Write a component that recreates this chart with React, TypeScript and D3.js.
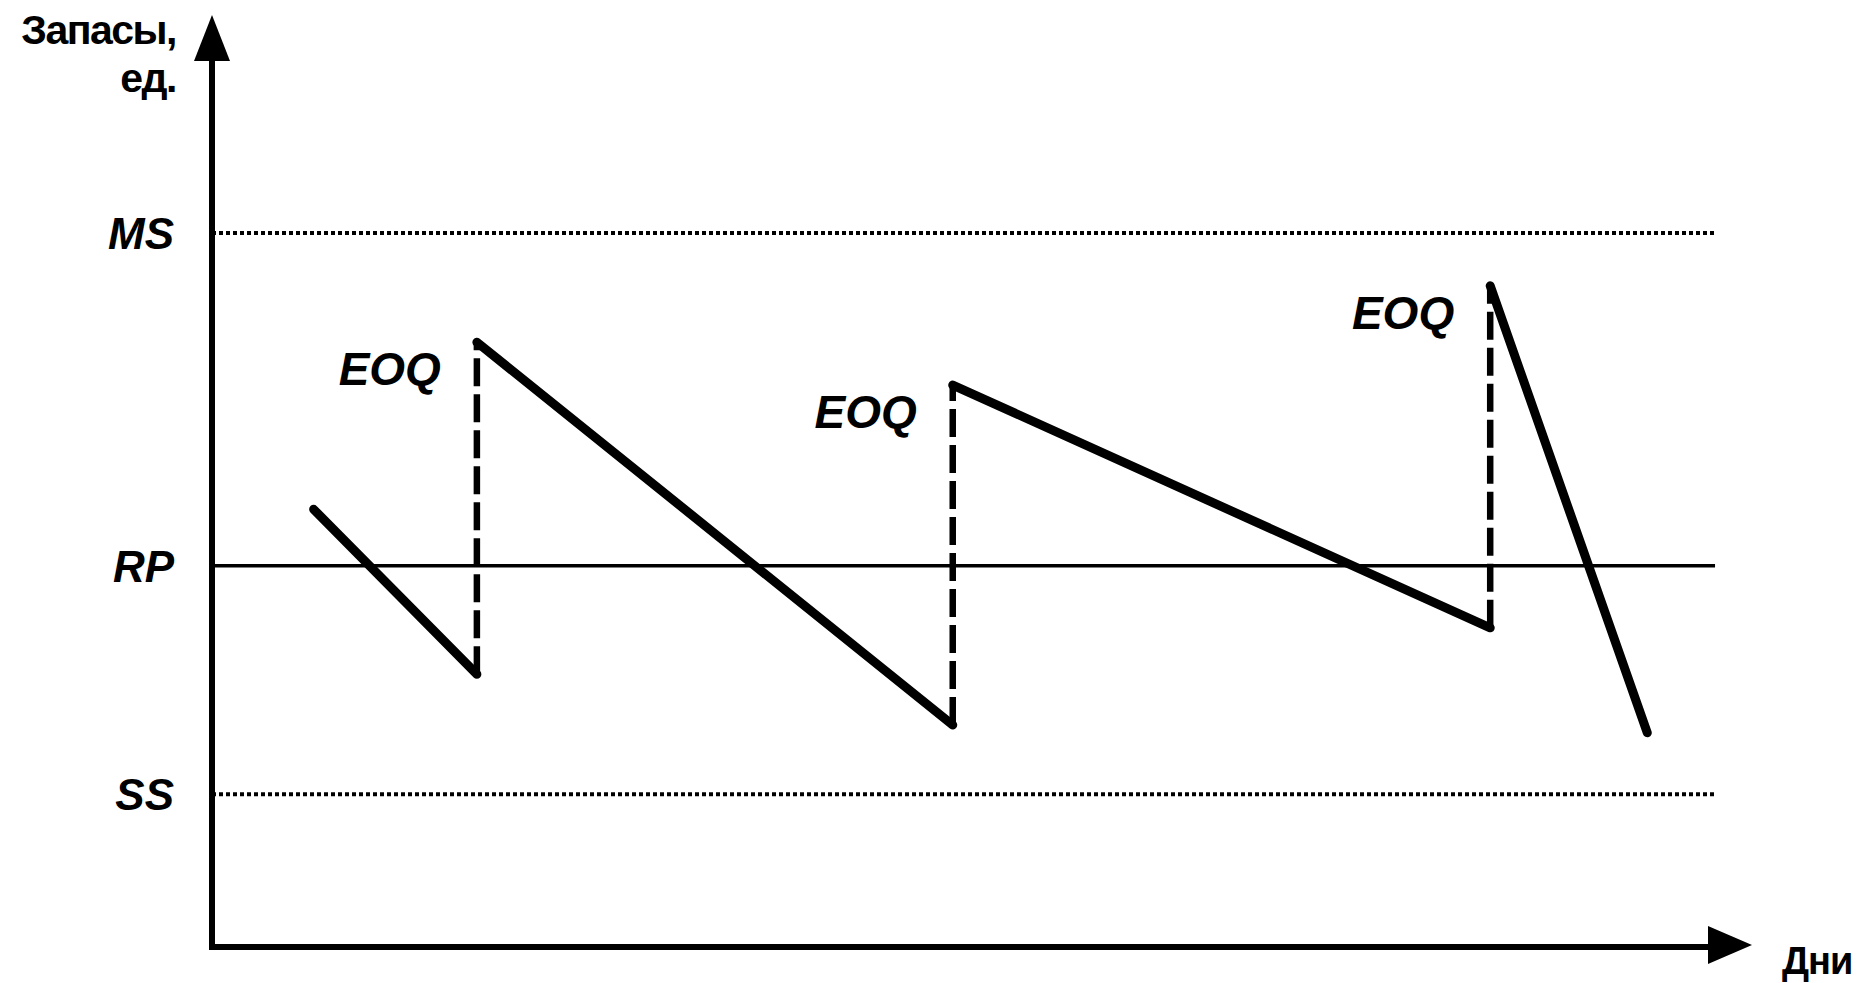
import * as d3 from "d3";

// Inventory levels (units) and stock path
const levels = [
  { key: "MS", value: 100, style: "dotted" },
  { key: "RP", value: 53.4, style: "solid" },
  { key: "SS", value: 21.4, style: "dotted" },
];

// sawtooth: day, stock
const stockPath: [number, number][] = [
  [6.6, 61.3],
  [17.2, 38.2],
  [17.2, 84.7],
  [48.1, 31.1],
  [48.1, 78.7],
  [83.0, 44.7],
  [83.0, 92.6],
  [93.2, 30.0],
];

// replenishments (day, from, to)
const orders: [number, number, number][] = [
  [17.2, 38.2, 84.7],
  [48.1, 31.1, 78.7],
  [83.0, 44.7, 92.6],
];

const W = 1868;
const H = 983;
const font = "'Liberation Sans', Arial, sans-serif";

export default function App() {
  const x = d3.scaleLinear().domain([0, 100]).range([212, 1752]);
  const y = d3.scaleLinear().domain([0, 100]).range([947, 233]);

  const x0 = x(0);
  const y0 = y(0);
  const lineEnd = x(97.6);
  const yTop = 15;

  // saw segments: solid decline lines only
  const declines: [number, number][][] = [];
  for (let i = 0; i < stockPath.length - 1; i += 2) {
    declines.push([stockPath[i], stockPath[i + 1]]);
  }
  const line = d3
    .line<[number, number]>()
    .x((d) => x(d[0]))
    .y((d) => y(d[1]));

  return (
    <svg
      width={W}
      height={H}
      viewBox={`0 0 ${W} ${H}`}
      style={{ position: "absolute", left: 0, top: 0, background: "#fff" }}
    >
      {/* level lines */}
      {levels.map((l) => (
        <g key={l.key}>
          <line
            x1={x0}
            x2={lineEnd}
            y1={y(l.value)}
            y2={y(l.value)}
            stroke="#000"
            strokeWidth={l.style === "dotted" ? 4 : 3.5}
            strokeDasharray={l.style === "dotted" ? "4 3" : undefined}
          />
          <text
            x={x0 - 38}
            y={y(l.value) + 16}
            textAnchor="end"
            fontFamily={font}
            fontStyle="italic"
            fontWeight="bold"
            fontSize={44}
          >
            {l.key}
          </text>
        </g>
      ))}

      {/* order dashes */}
      {orders.map(([d, from, to], i) => (
        <g key={i}>
          <line
            x1={x(d)}
            x2={x(d)}
            y1={y(from)}
            y2={y(to)}
            stroke="#000"
            strokeWidth={6.5}
            strokeDasharray="28 8"
          />
          <text
            x={x(d) - 36}
            y={y(to) + 43}
            textAnchor="end"
            fontFamily={font}
            fontStyle="italic"
            fontWeight="bold"
            fontSize={46}
          >
            EOQ
          </text>
        </g>
      ))}

      {/* stock declines */}
      {declines.map((seg, i) => (
        <path
          key={i}
          d={line(seg) ?? ""}
          fill="none"
          stroke="#000"
          strokeWidth={9}
          strokeLinecap="round"
        />
      ))}

      {/* axes */}
      <path
        d={`M${x0},${yTop + 40}V${y0}H${x(100) - 38}`}
        fill="none"
        stroke="#000"
        strokeWidth={6}
      />
      <path
        d={`M${x0},${yTop}L${x0 - 18},${yTop + 46}L${x0 + 18},${yTop + 46}Z`}
        fill="#000"
      />
      <path
        d={`M${x(100)},${y0 - 2}L${x(100) - 44},${y0 - 21}L${x(100) - 44},${y0 + 17}Z`}
        fill="#000"
      />

      <text
        x={176}
        y={44}
        textAnchor="end"
        fontFamily={font}
        fontWeight="bold"
        fontSize={41}
        letterSpacing={-1.5}
      >
        Запасы,
      </text>
      <text
        x={176}
        y={92}
        textAnchor="end"
        fontFamily={font}
        fontWeight="bold"
        fontSize={41}
        letterSpacing={-1.5}
      >
        ед.
      </text>
      <text
        x={1782}
        y={974}
        fontFamily={font}
        fontWeight="bold"
        fontSize={38}
        letterSpacing={-1}
      >
        Дни
      </text>
    </svg>
  );
}
